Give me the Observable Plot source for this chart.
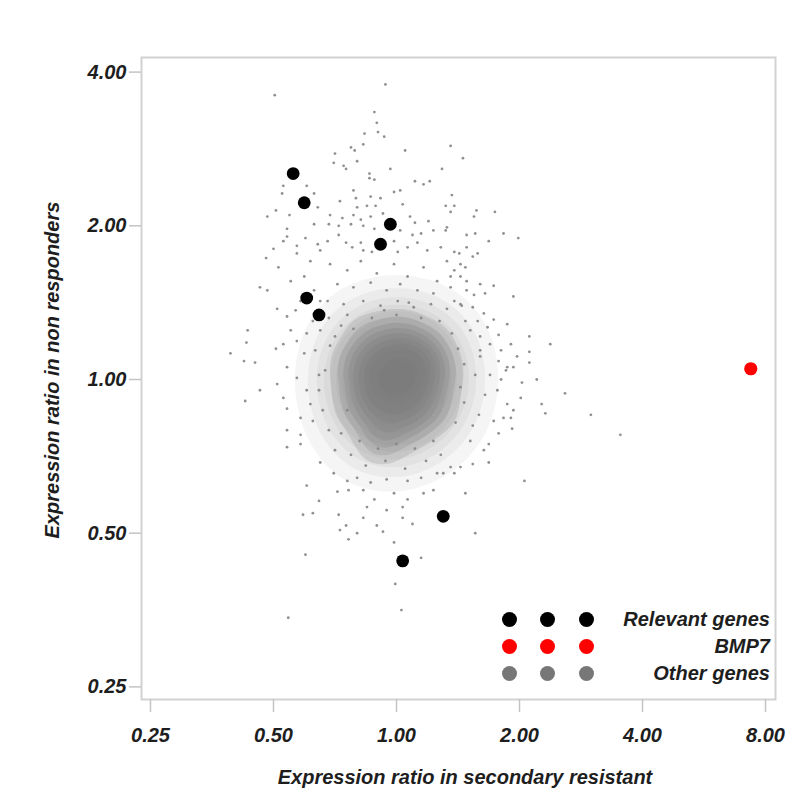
<!DOCTYPE html>
<html><head><meta charset="utf-8">
<script src="https://cdn.jsdelivr.net/npm/d3@7"></script>
<script src="https://cdn.jsdelivr.net/npm/@observablehq/plot@0.6"></script>
<style>
body{margin:0;background:#fff;}
#wrap{position:relative;width:793px;height:800px;overflow:hidden;font-family:'Liberation Sans',Arial,sans-serif;font-style:italic;font-weight:bold;color:#1e1e1e;}
.t{position:absolute;white-space:nowrap;font-size:20px;line-height:24px;}
.ld{position:absolute;border-radius:50%;}
</style>
</head><body><div id="wrap"></div>
<script>
// Axis ticks (expression ratios)
const xTicks = [0.25, 0.5, 1, 2, 4, 8];
const yTicks = [0.25, 0.5, 1, 2, 4];

// All values below are log2 expression ratios [secondary resistant, non responders]
const relevantGenesLog2 = [
  [-0.84, 1.34], [-0.75, 1.15], [-0.05, 1.01], [-0.13, 0.88],
  [-0.73, 0.53], [-0.63, 0.42], [0.38, -0.89], [0.05, -1.18]
];
const bmp7Log2 = [[2.88, 0.07]];

// dense core of the "other genes" cloud
const otherCoreLog2 = [
  [0.01,0.00],
  [0.14,0.00],[0.07,0.09],[-0.07,0.09],[-0.13,0.00],[-0.07,-0.09],[0.07,-0.09],
  [0.26,0.00],[0.23,0.12],[0.14,0.19],[0.01,0.22],[-0.14,0.19],[-0.24,0.11],[-0.26,-0.02],[-0.21,-0.14],[-0.10,-0.22],[0.07,-0.23],[0.20,-0.16],
  [0.37,0.05],[0.28,0.24],[0.03,0.32],[-0.24,0.29],[-0.37,0.09],[-0.34,-0.17],[-0.16,-0.33],[0.11,-0.32],[0.34,-0.20],
  [-0.12,-0.42]
];

// scattered "other genes"
const otherGenesLog2 = [
  [-0.99,1.85],[-0.09,1.92],[-0.18,1.74],[-0.16,1.67],[-0.15,1.61],[-0.10,1.58],[-0.26,1.60],[-0.27,1.53],
  [-0.37,1.51],[-0.34,1.49],[-0.50,1.47],[0.07,1.49],[0.44,1.52],[0.54,1.44],[-0.32,1.42],[-0.51,1.41],
  [-0.43,1.39],[-0.41,1.37],[-0.05,1.37],[0.37,1.37],[-0.22,1.34],[-0.22,1.31],[-0.18,1.30],[0.15,1.29],
  [0.22,1.27],[0.27,1.29],[-0.92,1.26],[-0.73,1.26],[-0.93,1.21],[-0.67,1.21],[-0.35,1.23],[-0.02,1.22],
  [0.03,1.23],[0.45,1.20],[-0.33,1.18],[-0.21,1.19],[-0.13,1.18],[-0.46,1.16],[0.05,1.14],[0.40,1.13],
  [0.47,1.13],[-0.32,1.12],[-0.24,1.13],[-0.17,1.13],[-0.64,1.12],[-1.05,1.06],[-0.98,1.10],[-0.87,1.07],
  [-0.54,1.07],[-0.44,1.05],[-0.35,1.07],[-0.29,1.04],[-0.21,1.06],[-0.11,1.08],[0.11,1.06],[0.15,1.02],
  [0.26,1.03],[0.44,1.09],[0.57,0.94],[0.63,1.06],[-0.67,1.01],[-0.55,1.01],[-0.47,1.00],[-0.37,1.01],
  [-0.27,1.00],[-0.18,0.98],[0.03,0.97],[0.13,0.94],[0.20,0.95],[0.30,0.97],[0.41,0.99],[-0.89,0.98],
  [-1.00,0.85],[-0.92,0.90],[-0.81,0.87],[-0.74,0.92],[-0.64,0.88],[-0.62,0.84],[-0.56,0.90],[-0.47,0.94],
  [-0.41,0.89],[-0.36,0.86],[-0.29,0.89],[-0.27,0.84],[-0.20,0.83],[-0.02,0.90],[0.01,0.83],[0.09,0.86],
  [0.17,0.89],[0.25,0.84],[0.36,0.86],[0.47,0.83],[0.57,0.86],[0.66,0.82],
  [-1.06,0.79],[-1.11,0.60],[-1.05,0.58],[-1.21,0.32],[-1.22,0.24],[-1.35,0.17],[-1.24,0.12],[-1.15,0.11],
  [-0.98,0.20],[-0.92,0.23],[-0.96,0.73],[-0.86,0.64],[-0.81,0.82],[-0.89,0.93],
  [0.65,1.10],[0.80,1.09],[0.40,0.97],[0.64,0.95],[0.87,0.95],[0.99,0.92],[0.75,0.90],[0.51,0.82],
  [0.41,0.77],[0.52,0.75],[0.62,0.80],[0.56,0.73],[0.44,0.67],[0.52,0.67],[0.57,0.64],[0.68,0.62],
  [0.79,0.61],[0.95,0.54],[0.63,0.55],[0.72,0.56],[0.47,0.51],[0.53,0.48],[0.62,0.47],[0.71,0.43],
  [0.79,0.39],[0.90,0.36],[0.66,0.38],[0.74,0.34],[0.83,0.29],[0.93,0.23],[1.08,0.28],[1.25,0.23],
  [0.98,0.15],[1.08,0.11],[1.14,0.00],[0.68,0.28],[0.76,0.23],[0.85,0.19],[0.68,0.15],[0.90,0.08],
  [1.08,0.18],[1.02,-0.02],[1.37,-0.09],[1.01,-0.12],[1.18,-0.16],[1.21,-0.22],[1.58,-0.23],[1.82,-0.36],
  [0.95,-0.20],[0.94,-0.32],[0.83,-0.35],[0.75,-0.42],[0.71,-0.46],[0.62,-0.55],[0.75,-0.54],[0.52,-0.57],
  [0.47,-0.61],[0.38,-0.61],[1.04,-0.66],[0.56,-0.74],[0.90,-0.16],[0.87,-0.25],[0.79,-0.27],[0.82,-0.07],
  [0.89,0.06],[0.83,0.12],[0.95,0.08],[0.85,0.00],[0.64,-1.00],[0.93,-0.25],
  [-0.89,-0.44],[-0.78,-0.42],[-0.73,-0.69],[-0.63,-0.79],[-0.76,-0.88],[-0.68,-0.87],[-0.47,-0.88],[-0.74,-1.14],
  [-0.88,-1.55],[-0.46,-0.98],[-0.41,-0.95],[-0.39,-1.04],[-0.32,-1.00],[-0.27,-0.90],[-0.24,-0.83],[-0.16,-0.95],
  [-0.11,-0.99],[-0.08,-0.85],[-0.02,-1.06],[0.05,-0.90],[0.05,-0.83],[0.13,-0.94],[0.20,-1.16],[-0.01,-1.33],
  [0.04,-1.50],[-0.48,-0.73],[-0.39,-0.72],[-0.27,-0.72],[-0.18,-0.78],[-0.02,-0.74],[0.09,-0.78],[0.22,-0.74],
  [0.30,-0.72],[-0.62,-0.54],[-0.51,-0.61],[-0.40,-0.66],[-0.32,-0.64],[-0.21,-0.67],[-0.08,-0.65],[0.09,-0.66],
  [0.20,-0.64],[0.33,-0.61],[0.44,-0.57],
  [-1.23,-0.14],[-1.11,-0.07],[-0.97,-0.03],[-0.89,-0.19],
  [-0.97,0.46],[-0.89,0.41],[-0.86,0.32],[-0.81,0.25],[-0.75,0.17],[-0.89,0.08],[-0.81,0.01],[-0.92,-0.12],
  [-0.78,-0.25],[-0.89,-0.33],[-0.78,-0.36],[-0.73,-0.07],[-0.70,-0.16],[-0.73,0.30],[-0.75,0.67],[-0.70,0.77],
  [-0.67,0.58],[-0.62,0.51],[-0.78,0.51],[-0.82,0.45],
  [-0.54,0.75],[-0.40,0.71],[-0.29,0.77],[-0.16,0.69],[-0.02,0.75],[0.09,0.67],[0.22,0.73],[0.33,0.64],
  [0.47,0.71],[-0.48,0.62],[-0.35,0.60],[-0.21,0.63],[-0.08,0.58],[0.03,0.62],[0.17,0.58],[0.30,0.56],
  [0.44,0.60],[0.57,0.58],[-0.56,0.51],[-0.43,0.49],[-0.27,0.51],[-0.13,0.48],[0.01,0.51],[0.14,0.47],
  [0.28,0.49],[0.41,0.46],[0.52,0.49],
  [-0.62,0.32],[-0.66,0.19],[-0.58,0.06],[-0.63,-0.07],[-0.60,-0.20],[-0.55,-0.33],[-0.50,-0.46],[-0.68,0.38],
  [-0.54,0.22],[-0.63,0.03],[-0.68,-0.27],
  [-0.37,-0.49],[-0.25,-0.56],[-0.09,-0.53],[0.07,-0.58],[0.24,-0.53],[0.36,-0.49],
  [0.60,0.32],[0.68,0.19],[0.64,0.03],[0.72,-0.10],[0.67,-0.23],[0.60,-0.40],[0.76,0.03],[0.56,0.38],
  [-0.55,0.40],[-0.45,0.35],[-0.50,0.28],[-0.40,0.42],[-0.35,0.33],[0.50,0.20],[0.55,0.10],[0.52,-0.05],
  [0.55,-0.15],[0.48,-0.28],[0.45,0.30],[0.62,-0.30],[-0.30,-0.40],[-0.15,-0.45],[0.00,-0.42],[0.15,-0.45],
  [0.30,-0.40],[-0.45,-0.35],[-0.40,-0.20],[-0.20,0.40],[0.00,0.42],[0.20,0.40],[0.35,0.38],[-0.10,0.45],
  [0.10,0.50]
];

const legendLabels = ["Relevant genes", "BMP7", "Other genes"];

const colors = {relevant: "#000000", bmp7: "#ff0000", other: "#777777"};
const fx = d => 2 ** d[0];
const fy = d => 2 ** d[1];
const fmt = d => d.toFixed(2);

const chart = Plot.plot({
  width: 793, height: 800,
  marginLeft: 141, marginRight: 18, marginTop: 57, marginBottom: 101,
  x: {type: "log", base: 2, domain: [2 ** -2.073, 2 ** 3.081]},
  y: {type: "log", base: 2, domain: [2 ** -2.082, 2 ** 2.095]},
  style: {fontFamily: "'Liberation Sans', Arial, sans-serif", fontSize: "20px", fontStyle: "italic", fontWeight: "bold", color: "#1e1e1e", background: "#fff"},
  marks: [
    Plot.density(otherCoreLog2, {x: fx, y: fy, bandwidth: 34, thresholds: 14, fill: colors.other, fillOpacity: 0.07, stroke: "none"}),
    Plot.density(otherCoreLog2, {x: fx, y: fy, bandwidth: 14, thresholds: 10, fill: colors.other, fillOpacity: 0.2, stroke: "none"}),
    Plot.dot(otherGenesLog2, {x: fx, y: fy, r: 1.4, fill: "#858585", fillOpacity: 0.9, stroke: "none"}),
    Plot.dot(relevantGenesLog2, {x: fx, y: fy, r: 6.4, fill: colors.relevant, stroke: "none"}),
    Plot.dot(bmp7Log2, {x: fx, y: fy, r: 6.6, fill: colors.bmp7, stroke: "none"}),
    Plot.frame({stroke: "#d2d2d2", strokeWidth: 2}),
    Plot.axisX(xTicks, {tickSize: 13, tickPadding: 15, tickFormat: fmt, stroke: "#c4c4c4", strokeWidth: 1.5, fill: "#1e1e1e", label: null}),
    Plot.axisY(yTicks, {tickSize: 12, tickPadding: 3, tickFormat: fmt, stroke: "#c4c4c4", strokeWidth: 1.5, fill: "#1e1e1e", label: null})
  ]
});

const wrap = document.getElementById("wrap");
chart.style.position = "absolute";
chart.style.left = "0px";
chart.style.top = "0px";
wrap.appendChild(chart);

function addText(txt, css) {
  const d = document.createElement("div");
  d.className = "t";
  d.textContent = txt;
  Object.assign(d.style, css);
  wrap.appendChild(d);
  return d;
}
// axis titles
addText("Expression ratio in secondary resistant", {left: "165px", width: "600px", textAlign: "center", top: "765px"});
addText("Expression ratio in non responders", {left: (52 - 250) + "px", width: "500px", textAlign: "center", top: (370 - 12) + "px", transform: "rotate(-90deg)"});

// legend
const legendColors = [colors.relevant, colors.bmp7, colors.other];
const rowY = [619, 646, 673];
const dotX = [509, 547, 586];
legendLabels.forEach((lab, i) => {
  dotX.forEach(cx => {
    const c = document.createElement("div");
    c.className = "ld";
    Object.assign(c.style, {left: (cx - 7.5) + "px", top: (rowY[i] - 7.5) + "px", width: "15px", height: "15px", background: legendColors[i]});
    wrap.appendChild(c);
  });
  addText(lab, {left: "470px", width: "300px", textAlign: "right", top: (rowY[i] - 12) + "px"});
});
</script>
</body></html>
